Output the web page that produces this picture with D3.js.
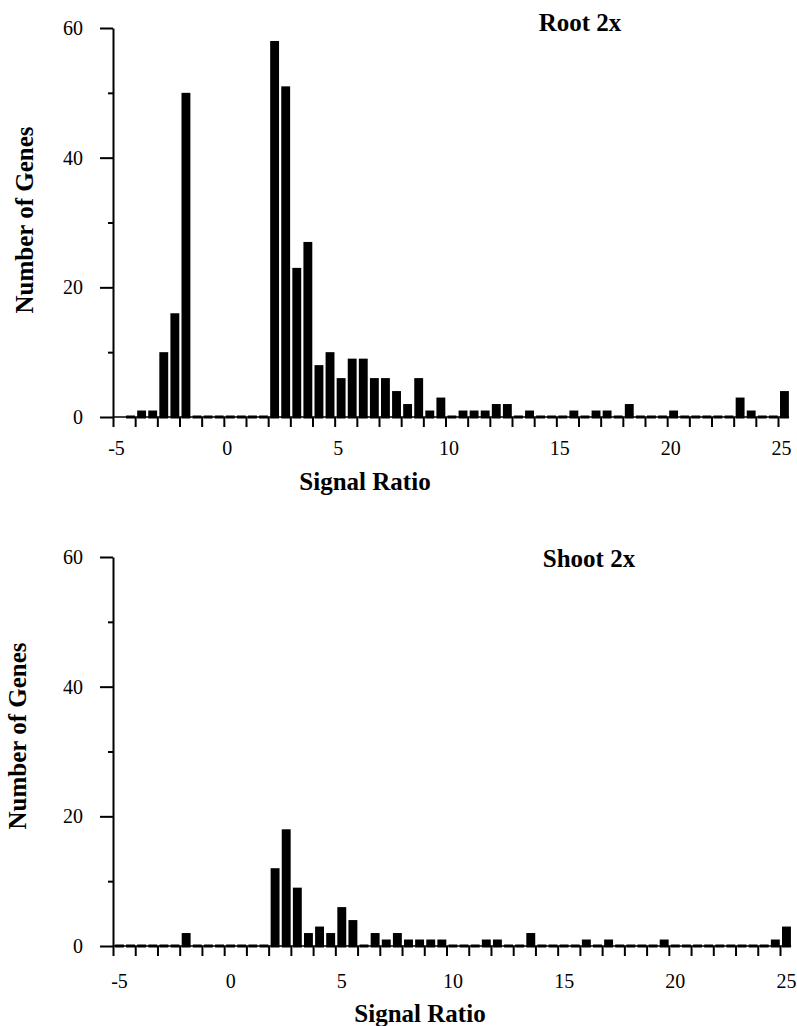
<!DOCTYPE html>
<html>
<head>
<meta charset="utf-8">
<script src="https://cdn.jsdelivr.net/npm/d3@7"></script>
<style>
  body { margin: 0; background: #fff; }
  svg { display: block; font-family: "Liberation Serif", "Times New Roman", serif; }
</style>
</head>
<body>
<div id="vis"></div>
<script>
// histogram bins (left edge of each 0.5 wide bin)
const BIN_WIDTH = 0.5;
const SIGNAL_BINS = [
  -5, -4.5, -4, -3.5, -3, -2.5, -2, -1.5, -1, -0.5,
  0, 0.5, 1, 1.5, 2, 2.5, 3, 3.5, 4, 4.5,
  5, 5.5, 6, 6.5, 7, 7.5, 8, 8.5, 9, 9.5,
  10, 10.5, 11, 11.5, 12, 12.5, 13, 13.5, 14, 14.5,
  15, 15.5, 16, 16.5, 17, 17.5, 18, 18.5, 19, 19.5,
  20, 20.5, 21, 21.5, 22, 22.5, 23, 23.5, 24, 24.5,
  25
];

// gene counts per bin (null = no bar drawn)
const ROOT_COUNTS = [
  null, 0, 1, 1, 10, 16, 50, 0, 0, 0,
  0, 0, 0, 0, 58, 51, 23, 27, 8, 10,
  6, 9, 9, 6, 6, 4, 2, 6, 1, 3,
  0, 1, 1, 1, 2, 2, 0, 1, 0, 0,
  0, 1, 0, 1, 1, 0, 2, 0, 0, 0,
  1, 0, 0, 0, 0, 0, 3, 1, 0, 0,
  4
];
const SHOOT_COUNTS = [
  0, 0, 0, 0, 0, 0, 2, 0, 0, 0,
  0, 0, 0, 0, 12, 18, 9, 2, 3, 2,
  6, 4, 0, 2, 1, 2, 1, 1, 1, 1,
  0, 0, 0, 1, 1, 0, 0, 2, 0, 0,
  0, 0, 1, 0, 1, 0, 0, 0, 0, 1,
  0, 0, 0, 0, 0, 0, 0, 0, 0, 1,
  3
];

const X_TICKS = [-5, -4, -3, -2, -1, 0, 1, 2, 3, 4, 5, 6, 7, 8, 9, 10,
  11, 12, 13, 14, 15, 16, 17, 18, 19, 20, 21, 22, 23, 24, 25];
const X_LABELS = [-5, 0, 5, 10, 15, 20, 25];
const Y_MAJOR = [0, 20, 40, 60];
const Y_MINOR = [10, 30, 50];

const WIDTH = 797;
const HEIGHT = 1026;

const svg = d3.select("#vis")
  .append("svg")
  .attr("width", WIDTH)
  .attr("height", HEIGHT);

const panels = [
  { title: "Root 2x", counts: ROOT_COUNTS, x0: 113, x1: 778, yTop: 28, yBase: 417,
    titleX: 580, titleY: 31, labelPad: 14, labelDx: 3,
    xTitleX: 365, xTitleY: 490, yTitleX: 24, yTitleY: 220 },
  { title: "Shoot 2x", counts: SHOOT_COUNTS, x0: 113, x1: 780, yTop: 557, yBase: 946,
    titleX: 589, titleY: 567, labelPad: 18, labelDx: 6,
    xTitleX: 420, xTitleY: 1022, yTitleX: 17, yTitleY: 736 }
];

panels.forEach(drawPanel);

function drawPanel(p) {
  const X_SCALE = d3.scaleLinear().domain([-5, 25]).range([p.x0, p.x1]);
  const Y_SCALE = d3.scaleLinear().domain([0, 60]).range([p.yBase, p.yTop]);
  const g = svg.append("g");

  const data = SIGNAL_BINS.map((b, i) => ({ bin: b, count: p.counts[i] }))
    .filter((d) => d.count !== null);

  // baseline
  g.append("line")
    .attr("x1", X_SCALE(-5))
    .attr("x2", X_SCALE(25 + BIN_WIDTH))
    .attr("y1", p.yBase)
    .attr("y2", p.yBase)
    .attr("stroke", "#000")
    .attr("stroke-width", 1.5);

  // bars (zero bins show as a short thick strip on the baseline)
  g.selectAll(".bar")
    .data(data)
    .enter()
    .append("rect")
    .attr("class", "bar")
    .attr("x", (d) => X_SCALE(d.bin) + 2)
    .attr("width", (d) => X_SCALE(d.bin + BIN_WIDTH) - X_SCALE(d.bin) - 2.2)
    .attr("y", (d) => Math.min(Y_SCALE(d.count), p.yBase - 1.5))
    .attr("height", (d) => p.yBase + 1.5 - Math.min(Y_SCALE(d.count), p.yBase - 1.5))
    .attr("fill", "#000");

  // x axis ticks + labels
  const xAxis = g.append("g")
    .attr("transform", "translate(0," + p.yBase + ")")
    .call(d3.axisBottom(X_SCALE)
      .tickValues(X_TICKS)
      .tickSize(10)
      .tickPadding(p.labelPad)
      .tickFormat((d) => (X_LABELS.includes(d) ? d : "")));
  xAxis.select(".domain").remove();
  xAxis.selectAll("line").attr("stroke", "#000").attr("stroke-width", 2);
  xAxis.selectAll("text")
    .attr("dx", p.labelDx)
    .attr("font-size", "20px")
    .attr("font-family", "Liberation Serif, serif")
    .attr("fill", "#000");

  // y axis
  const yAxis = g.append("g")
    .attr("transform", "translate(" + p.x0 + ",0)")
    .call(d3.axisLeft(Y_SCALE)
      .tickValues(Y_MAJOR)
      .tickSize(13)
      .tickSizeOuter(0)
      .tickPadding(17));
  yAxis.select(".domain").attr("stroke", "#000").attr("stroke-width", 2);
  yAxis.selectAll("line").attr("stroke", "#000").attr("stroke-width", 2);
  yAxis.selectAll("text")
    .attr("font-size", "20px")
    .attr("font-family", "Liberation Serif, serif")
    .attr("fill", "#000");

  const yMinor = g.append("g")
    .attr("transform", "translate(" + p.x0 + ",0)")
    .call(d3.axisLeft(Y_SCALE).tickValues(Y_MINOR).tickSize(5).tickFormat(""));
  yMinor.select(".domain").remove();
  yMinor.selectAll("line").attr("stroke", "#000").attr("stroke-width", 2);

  // titles
  g.append("text")
    .attr("x", p.titleX)
    .attr("y", p.titleY)
    .attr("text-anchor", "middle")
    .attr("font-weight", "bold")
    .attr("font-size", "25px")
    .text(p.title);

  g.append("text")
    .attr("x", p.xTitleX)
    .attr("y", p.xTitleY)
    .attr("text-anchor", "middle")
    .attr("font-weight", "bold")
    .attr("font-size", "25px")
    .text("Signal Ratio");

  g.append("text")
    .attr("transform", "translate(" + p.yTitleX + "," + p.yTitleY + ") rotate(-90)")
    .attr("text-anchor", "middle")
    .attr("dy", "0.35em")
    .attr("font-weight", "bold")
    .attr("font-size", "25px")
    .text("Number of Genes");
}
</script>
</body>
</html>
